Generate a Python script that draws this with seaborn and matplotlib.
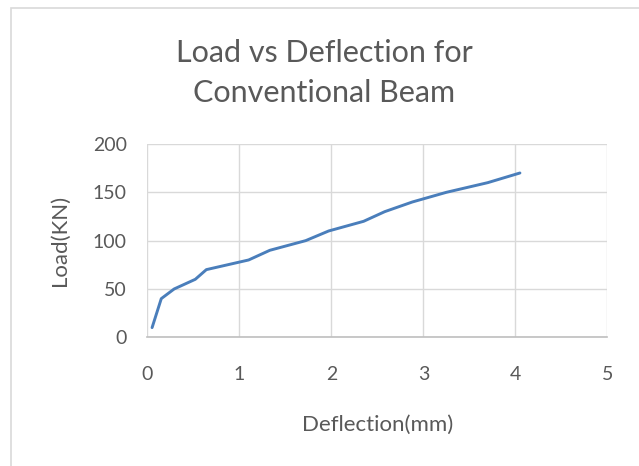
import matplotlib
matplotlib.use("Agg")
import matplotlib.pyplot as plt
import seaborn as sns
import pandas as pd
from matplotlib.patches import Rectangle

deflection = [0.05, 0.15, 0.29, 0.52, 0.64, 1.10, 1.33, 1.72, 1.97, 2.35, 2.58, 2.88, 3.25, 3.70, 4.05]
load = [10, 40, 50, 60, 70, 80, 90, 100, 110, 120, 130, 140, 150, 160, 170]
x_ticks = [0, 1, 2, 3, 4, 5]
y_ticks = [0, 50, 100, 150, 200]

sns.set_style("white")
plt.rcParams['font.family'] = ['Lato', 'DejaVu Sans']

txt = '#595959'
grid = '#d9d9d9'

df = pd.DataFrame({'Deflection': deflection, 'Load': load})

fig = plt.figure(figsize=(6.39, 4.66), dpi=100)
ax = fig.add_axes([0.2308, 0.2762, 0.7196, 0.4148])

sns.lineplot(data=df, x='Deflection', y='Load', sort=False, ax=ax,
             color='#4a7ebb', linewidth=2.1)

ax.set_xlim(0, 5)
ax.set_ylim(0, 200)
ax.set_xticks(x_ticks)
ax.set_yticks(y_ticks)
ax.grid(True, color=grid, linewidth=1.0)
ax.set_axisbelow(True)
for s in ['top', 'right', 'left']:
    ax.spines[s].set_visible(False)
ax.spines['bottom'].set_color('#bfbfbf')
ax.spines['bottom'].set_linewidth(1.2)
ax.tick_params(axis='x', length=0, pad=21, labelsize=14, labelcolor=txt)
ax.tick_params(axis='y', length=0, pad=15, labelsize=14, labelcolor=txt)

ax.set_xlabel('Deflection(mm)', fontsize=16, color=txt)
ax.xaxis.set_label_coords(0.5, -0.40)
ax.set_ylabel('Load(KN)', fontsize=16, color=txt)
ax.yaxis.set_label_coords(-0.168, 0.5)

# two-line title, centred over the chart
fig.text(0.507, 0.8676, 'Load vs Deflection for', ha='center', va='baseline',
         fontsize=22, color=txt)
fig.text(0.507, 0.7818, 'Conventional Beam', ha='center', va='baseline',
         fontsize=22, color=txt)

# chart area border (only left/top visible in the crop)
fig.patches.append(Rectangle((11 / 639, -0.1), 1.2, 1 - 8 / 466 + 0.1,
                             transform=fig.transFigure, fill=False,
                             edgecolor='#d9d9d9', linewidth=1.2))

fig.savefig('out.png', dpi=100)
